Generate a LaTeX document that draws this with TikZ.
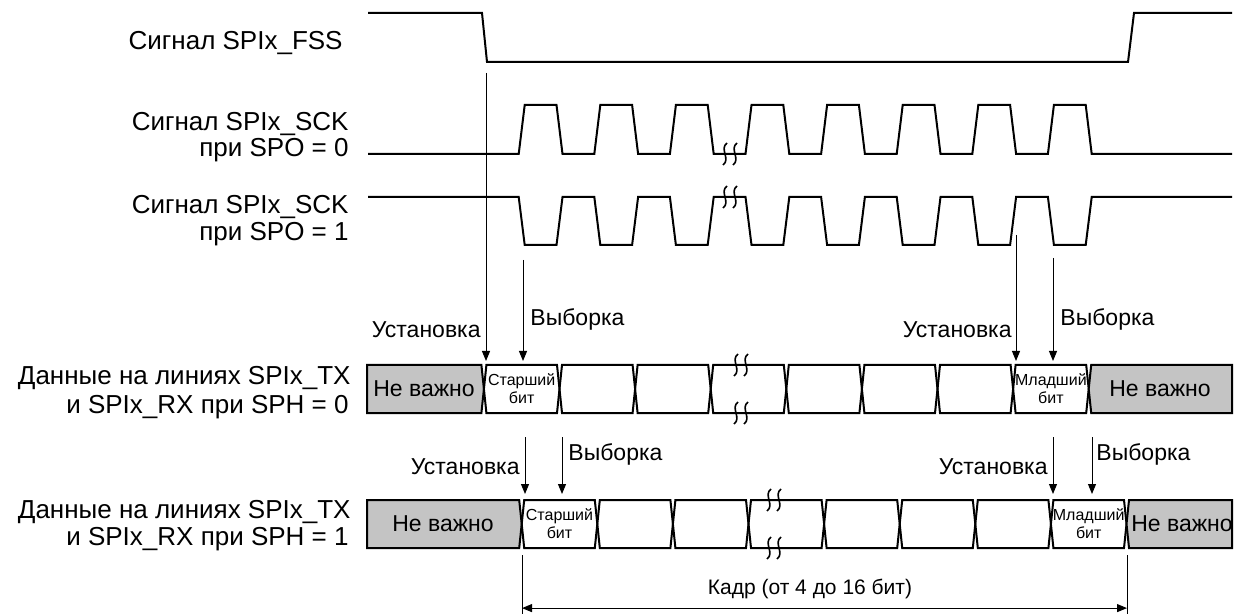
\documentclass[tikz,border=0pt]{standalone}
\usepackage{fontspec}
\setmainfont{Liberation Sans}
\usetikzlibrary{arrows.meta,positioning,calc}
\definecolor{dontcare}{HTML}{C4C4C4}
\newcommand{\brkmark}[2]{%
  \draw[line width=0.8pt] ({#1+2},{#2-11}) .. controls ({#1-6},{#2-5}) and ({#1+6},{#2+5}) .. ({#1-2},{#2+11});}

\begin{document}
\begin{tikzpicture}[
  x=0.5pt, y=-0.5pt,
  sig/.style={line width=1pt, line join=miter},
  bus/.style={line width=1pt, line join=miter},
  gcell/.style={bus, fill=dontcare},
  ar/.style={line width=0.5pt, -{Triangle[length=5pt,width=4pt]}},
  span/.style={line width=0.5pt, {Triangle[length=5pt,width=4pt]}-{Triangle[length=5pt,width=4pt]}},
  lbl/.style={font=\fontsize{13}{14}\selectfont, inner sep=0pt, anchor=base east},
  tag/.style={font=\fontsize{11.5}{12}\selectfont, inner sep=0pt},
  bit/.style={font=\fontsize{8}{9}\selectfont, align=center, inner sep=0pt}
]
\useasboundingbox (0,0) rectangle (1241,614);

% signal names
\node[lbl] (fss)   at (343,50)  {Сигнал SPIx\_FSS};
\node[lbl] (sck0a) at (349,131) {Сигнал SPIx\_SCK};
\node[lbl] (sck0b) at (349,157) {при SPO = 0};
\node[lbl] (sck1a) at (349,214) {Сигнал SPIx\_SCK};
\node[lbl] (sck1b) at (349,241) {при SPO = 1};
\node[lbl] (d0a)   at (351,385) {Данные на линиях SPIx\_TX};
\node[lbl] (d0b)   at (349,413) {и SPIx\_RX при SPH = 0};
\node[lbl] (d1a)   at (351,518) {Данные на линиях SPIx\_TX};
\node[lbl] (d1b)   at (349,545) {и SPIx\_RX при SPH = 1};

% FSS
\draw[sig] (368,13) -- (482,13) -- (487,62) -- (1128,62) -- (1134,13) -- (1232,13);

% SCK, SPO = 0 and SPO = 1
\draw[sig] (368,154) foreach \k in {0,...,7} {
    -- ({518.7+75.6*\k},154) -- ({524.7+75.6*\k},105)
    -- ({556.5+75.6*\k},105) -- ({562.5+75.6*\k},154) } -- (1232,154);
\draw[sig] (368,197) foreach \k in {0,...,7} {
    -- ({518.7+75.6*\k},197) -- ({524.7+75.6*\k},245)
    -- ({556.5+75.6*\k},245) -- ({562.5+75.6*\k},197) } -- (1232,197);
\brkmark{725}{154} \brkmark{735}{154}
\brkmark{725}{197} \brkmark{735}{197}

% data, SPH = 0
\draw[gcell] (367,365) -- (481.4,365) -- (483.9,389) -- (481.4,413) -- (367,413) -- cycle;
\foreach \k in {0,...,7}
  \draw[bus] ({483.9+75.6*\k},389) -- ({486.4+75.6*\k},365) -- ({557+75.6*\k},365)
    -- ({559.5+75.6*\k},389) -- ({557+75.6*\k},413) -- ({486.4+75.6*\k},413) -- cycle;
\draw[gcell] (1088.7,389) -- (1091.2,365) -- (1232,365) -- (1232,413) -- (1091.2,413) -- cycle;
\brkmark{736}{365} \brkmark{746}{365}
\brkmark{736}{413} \brkmark{746}{413}
\node[tag] (nv0l) at (424,389) {Не важно};
\node[bit] (msb0) at (521.7,389) {Старший\\бит};
\node[bit] (lsb0) at (1050.9,389) {Младший\\бит};
\node[tag] (nv0r) at (1160,389) {Не важно};

% data, SPH = 1
\draw[gcell] (367,500) -- (519.2,500) -- (521.7,524) -- (519.2,548) -- (367,548) -- cycle;
\foreach \k in {0,...,7}
  \draw[bus] ({521.7+75.6*\k},524) -- ({524.2+75.6*\k},500) -- ({594.8+75.6*\k},500)
    -- ({597.3+75.6*\k},524) -- ({594.8+75.6*\k},548) -- ({524.2+75.6*\k},548) -- cycle;
\draw[gcell] (1126.5,524) -- (1129,500) -- (1232,500) -- (1232,548) -- (1129,548) -- cycle;
\brkmark{769}{500} \brkmark{779}{500}
\brkmark{769}{548} \brkmark{779}{548}
\node[tag] (nv1l) at (443,524) {Не важно};
\node[bit] (msb1) at (559.5,524) {Старший\\бит};
\node[bit] (lsb1) at (1088.7,524) {Младший\\бит};
\node[tag] (nv1r) at (1182,524) {Не важно};

% setup / sample marks, SPH = 0
\coordinate (su0a) at (486,73);    \coordinate (su0b) at (486,361);
\coordinate (sm0a) at (523,260);   \coordinate (sm0b) at (523,361);
\coordinate (su0c) at (1016,235);  \coordinate (su0d) at (1016,361);
\coordinate (sm0c) at (1053,258);  \coordinate (sm0d) at (1053,361);
\draw[ar] (su0a) -- (su0b);
\draw[ar] (sm0a) -- (sm0b);
\draw[ar] (su0c) -- (su0d);
\draw[ar] (sm0c) -- (sm0d);
\node[tag, anchor=base east] (tu0l) at (481,337) {Установка};
\node[tag, anchor=base west] (tm0l) at (530,326) {Выборка};
\node[tag, anchor=base east] (tu0r) at (1012,337) {Установка};
\node[tag, anchor=base west] (tm0r) at (1060,326) {Выборка};

% setup / sample marks, SPH = 1
\coordinate (su1a) at (525,437);   \coordinate (su1b) at (525,494);
\coordinate (sm1a) at (562,437);   \coordinate (sm1b) at (562,494);
\coordinate (su1c) at (1053,437);  \coordinate (su1d) at (1053,494);
\coordinate (sm1c) at (1092,437);  \coordinate (sm1d) at (1092,494);
\draw[ar] (su1a) -- (su1b);
\draw[ar] (sm1a) -- (sm1b);
\draw[ar] (su1c) -- (su1d);
\draw[ar] (sm1c) -- (sm1d);
\node[tag, anchor=base east] (tu1l) at (520,474) {Установка};
\node[tag, anchor=base west] (tm1l) at (568,460) {Выборка};
\node[tag, anchor=base east] (tu1r) at (1048,474) {Установка};
\node[tag, anchor=base west] (tm1r) at (1096,460) {Выборка};

% frame length
\coordinate (fl) at (522,555);  \coordinate (fl') at (522,614);
\coordinate (fr) at (1127,555); \coordinate (fr') at (1127,614);
\draw[line width=0.5pt] (fl) -- (fl');
\draw[line width=0.5pt] (fr) -- (fr');
\draw[span] ($(fl)!0.9!(fl')$) -- ($(fr)!0.9!(fr')$);
\node[tag, font=\fontsize{10.5}{12}\selectfont, anchor=base] (frame) at (810,594) {Кадр (от 4 до 16 бит)};
\end{tikzpicture}
\end{document}
